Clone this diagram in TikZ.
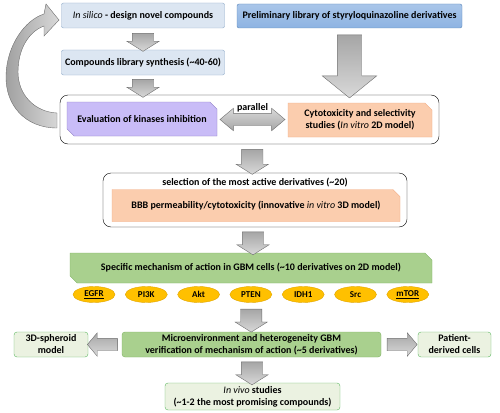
\documentclass[tikz,border=0pt]{standalone}
\usepackage{fontspec}
\setmainfont{Carlito}
\usetikzlibrary{shapes.geometric,shapes.misc,shapes.arrows,positioning,calc}

\definecolor{boxblue}{HTML}{DCE6F2}
\definecolor{boxblueline}{HTML}{8EA9C8}
\definecolor{libblue}{HTML}{8DB3E2}
\definecolor{libline}{HTML}{5B86B9}
\definecolor{kinpurple}{HTML}{C9BCF7}
\definecolor{kinline}{HTML}{8C7BC4}
\definecolor{peach}{HTML}{FBCDAE}
\definecolor{peachline}{HTML}{F2A980}
\definecolor{gbmgreen}{HTML}{A9D08E}
\definecolor{gbmline}{HTML}{7FB263}
\definecolor{palegreen}{HTML}{EBF2E1}
\definecolor{paleline}{HTML}{5CB860}
\definecolor{goldfill}{HTML}{FFC000}
\definecolor{goldline}{HTML}{E0A500}
\definecolor{arrowline}{HTML}{6E6E6E}

\tikzset{
  every node/.style={font=\fontsize{10}{12}\selectfont\bfseries, align=center, inner xsep=2pt, inner ysep=1pt},
  bluebox/.style={draw=boxblueline, fill=boxblue, rounded corners=2pt, minimum height=25},
  libbox/.style={draw=libline, top color=libblue!75!white, bottom color=libblue, rounded corners=2pt},
  frame/.style={draw=black, fill=white, rounded corners=8pt},
  kinbox/.style={chamfered rectangle, chamfered rectangle corners={north east,south west},
    chamfered rectangle xsep=4pt, draw=kinline, fill=kinpurple},
  peachbox/.style={chamfered rectangle, chamfered rectangle corners={north east},
    chamfered rectangle xsep=4pt, draw=peachline, fill=peach},
  gbmbox/.style={draw=gbmline, fill=gbmgreen},
  palebox/.style={draw=paleline, fill=palegreen, rounded corners=3pt},
  target/.style={ellipse, draw=goldline, fill=goldfill, minimum width=42, minimum height=16,
    inner sep=0pt, font=\fontsize{9}{10}\selectfont\bfseries},
  grayarrow/.style={single arrow, draw=arrowline, top color=gray!70, bottom color=gray!30,
    inner xsep=0pt, inner ysep=10.5pt, single arrow head extend=5.5pt,
    single arrow head indent=0pt, single arrow tip angle=116, minimum width=0pt},
}

\begin{document}
\begin{tikzpicture}[x=1pt,y=-1pt]
\useasboundingbox (0,0) rectangle (500,412);

% design and synthesis
\node[bluebox, minimum width=163] (insilico) at (143,15.5) {{\mdseries\itshape In silico} - design novel compounds};
\node[libbox, minimum width=225, minimum height=24] (prelim) at (349.5,16) {Preliminary library of styryloquinazoline derivatives};
\node[bluebox, minimum width=163] (synth) at (143,62.5) {Compounds library synthesis (\textasciitilde40-60)};

% first screening
\node[frame, minimum width=379, minimum height=49] (screen) at (249.5,119.5) {};
\node[kinbox, minimum width=150, minimum height=34] (kinase) at (142,119) {Evaluation of kinases inhibition};
\node[peachbox, minimum width=144, minimum height=34] (cyto) at (360,120) {Cytotoxicity and selectivity\\studies ({\mdseries\itshape In vitro} 2D model)};
\node[double arrow, draw=arrowline, top color=gray!30, bottom color=gray!70, inner xsep=0pt, inner ysep=6pt,
  double arrow head extend=5pt, double arrow head indent=0pt, double arrow tip angle=80,
  minimum width=0pt, minimum height=65] (both) at ($(kinase.east)!.5!(cyto.west)$) {};
\node[anchor=south, inner sep=1pt] (par) at (both.north) {parallel};

% feedback loop
\path[draw=arrowline, left color=gray!75, right color=gray!30]
  (57,128) .. controls (25,128) and (5,105) .. (6,75)
  .. controls (7,45) and (25,20) .. (44,14)
  -- (46,4) -- (59,20) -- (44,36) -- (44,26)
  .. controls (28,32) and (18,50) .. (18,72)
  .. controls (18,95) and (35,112) .. (57,113) -- cycle;

% selection
\node[frame, minimum width=304, minimum height=54] (select) at (255,200) {};
\node (seltitle) at (255,182.5) {selection of the most active derivatives (\textasciitilde20)};
\node[peachbox, minimum width=288, minimum height=32] (bbb) at (256,205.5) {BBB permeability/cytotoxicity (innovative {\mdseries\itshape in vitro} 3D model)};

% mechanism
\node[gbmbox, chamfered rectangle, chamfered rectangle corners={north east,south west},
  chamfered rectangle xsep=4pt, minimum width=362, minimum height=30] (mech) at (251,268) {Specific mechanism of action in GBM cells (\textasciitilde10 derivatives on 2D model)};
\foreach \gene/\name [count=\i] in {\underline{EGFR}/egfr, PI3K/pi3k, Akt/akt, PTEN/pten, IDH1/idh, Src/src, \underline{mTOR}/mtor}
  \node[target] (\name) at ({94+52.3*(\i-1)},294.5) {\gene};

% verification
\node[gbmbox, rounded corners=3pt, minimum width=259, minimum height=25] (micro) at (251.5,344.5) {Microenvironment and heterogeneity GBM\\verification of mechanism of action (\textasciitilde5 derivatives)};
\node[palebox, minimum width=74, minimum height=25] (spheroid) at (51,344.5) {3D-spheroid\\model};
\node[palebox, minimum width=73, minimum height=25] (patient) at (454.5,344.5) {Patient-\\derived cells};
\node[palebox, minimum width=175, minimum height=27] (vivo) at (252.5,396.5) {{\mdseries\itshape In vivo} studies\\(\textasciitilde1-2 the most promising compounds)};

% block arrows
\node[grayarrow, rotate=-90, minimum height=18] (a1) at ($(insilico.south)!.5!(synth.north)$) {};
\node[grayarrow, rotate=-90, minimum height=18] (a2) at ($(synth.south)!.5!(screen.north -| synth.south)$) {};
\node[grayarrow, rotate=-90, inner ysep=12pt, single arrow head extend=15pt, single arrow tip angle=102,
  minimum height=63] (a3) at ($(prelim.south)!.5!(screen.north -| prelim.south)$) {};
\node[grayarrow, rotate=-90, minimum height=25] (a4) at ($(screen.south)!.5!(select.north)$) {};
\node[grayarrow, rotate=-90, minimum height=23] (a5) at ($(select.south)!.5!(mech.north)$) {};
\node[grayarrow, rotate=-90, minimum height=23] (a6) at ($(pten.south)!.5!(micro.north)$) {};
\node[grayarrow, rotate=-90, minimum height=23] (a7) at ($(micro.south)!.5!(vivo.north)$) {};
\node[grayarrow, rotate=180, inner ysep=6pt, single arrow tip angle=100, minimum height=30] (a8) at ($(micro.west)!.5!(spheroid.east)$) {};
\node[grayarrow, inner ysep=6pt, single arrow tip angle=100, minimum height=30] (a9) at ($(micro.east)!.5!(patient.west)$) {};
\end{tikzpicture}
\end{document}
